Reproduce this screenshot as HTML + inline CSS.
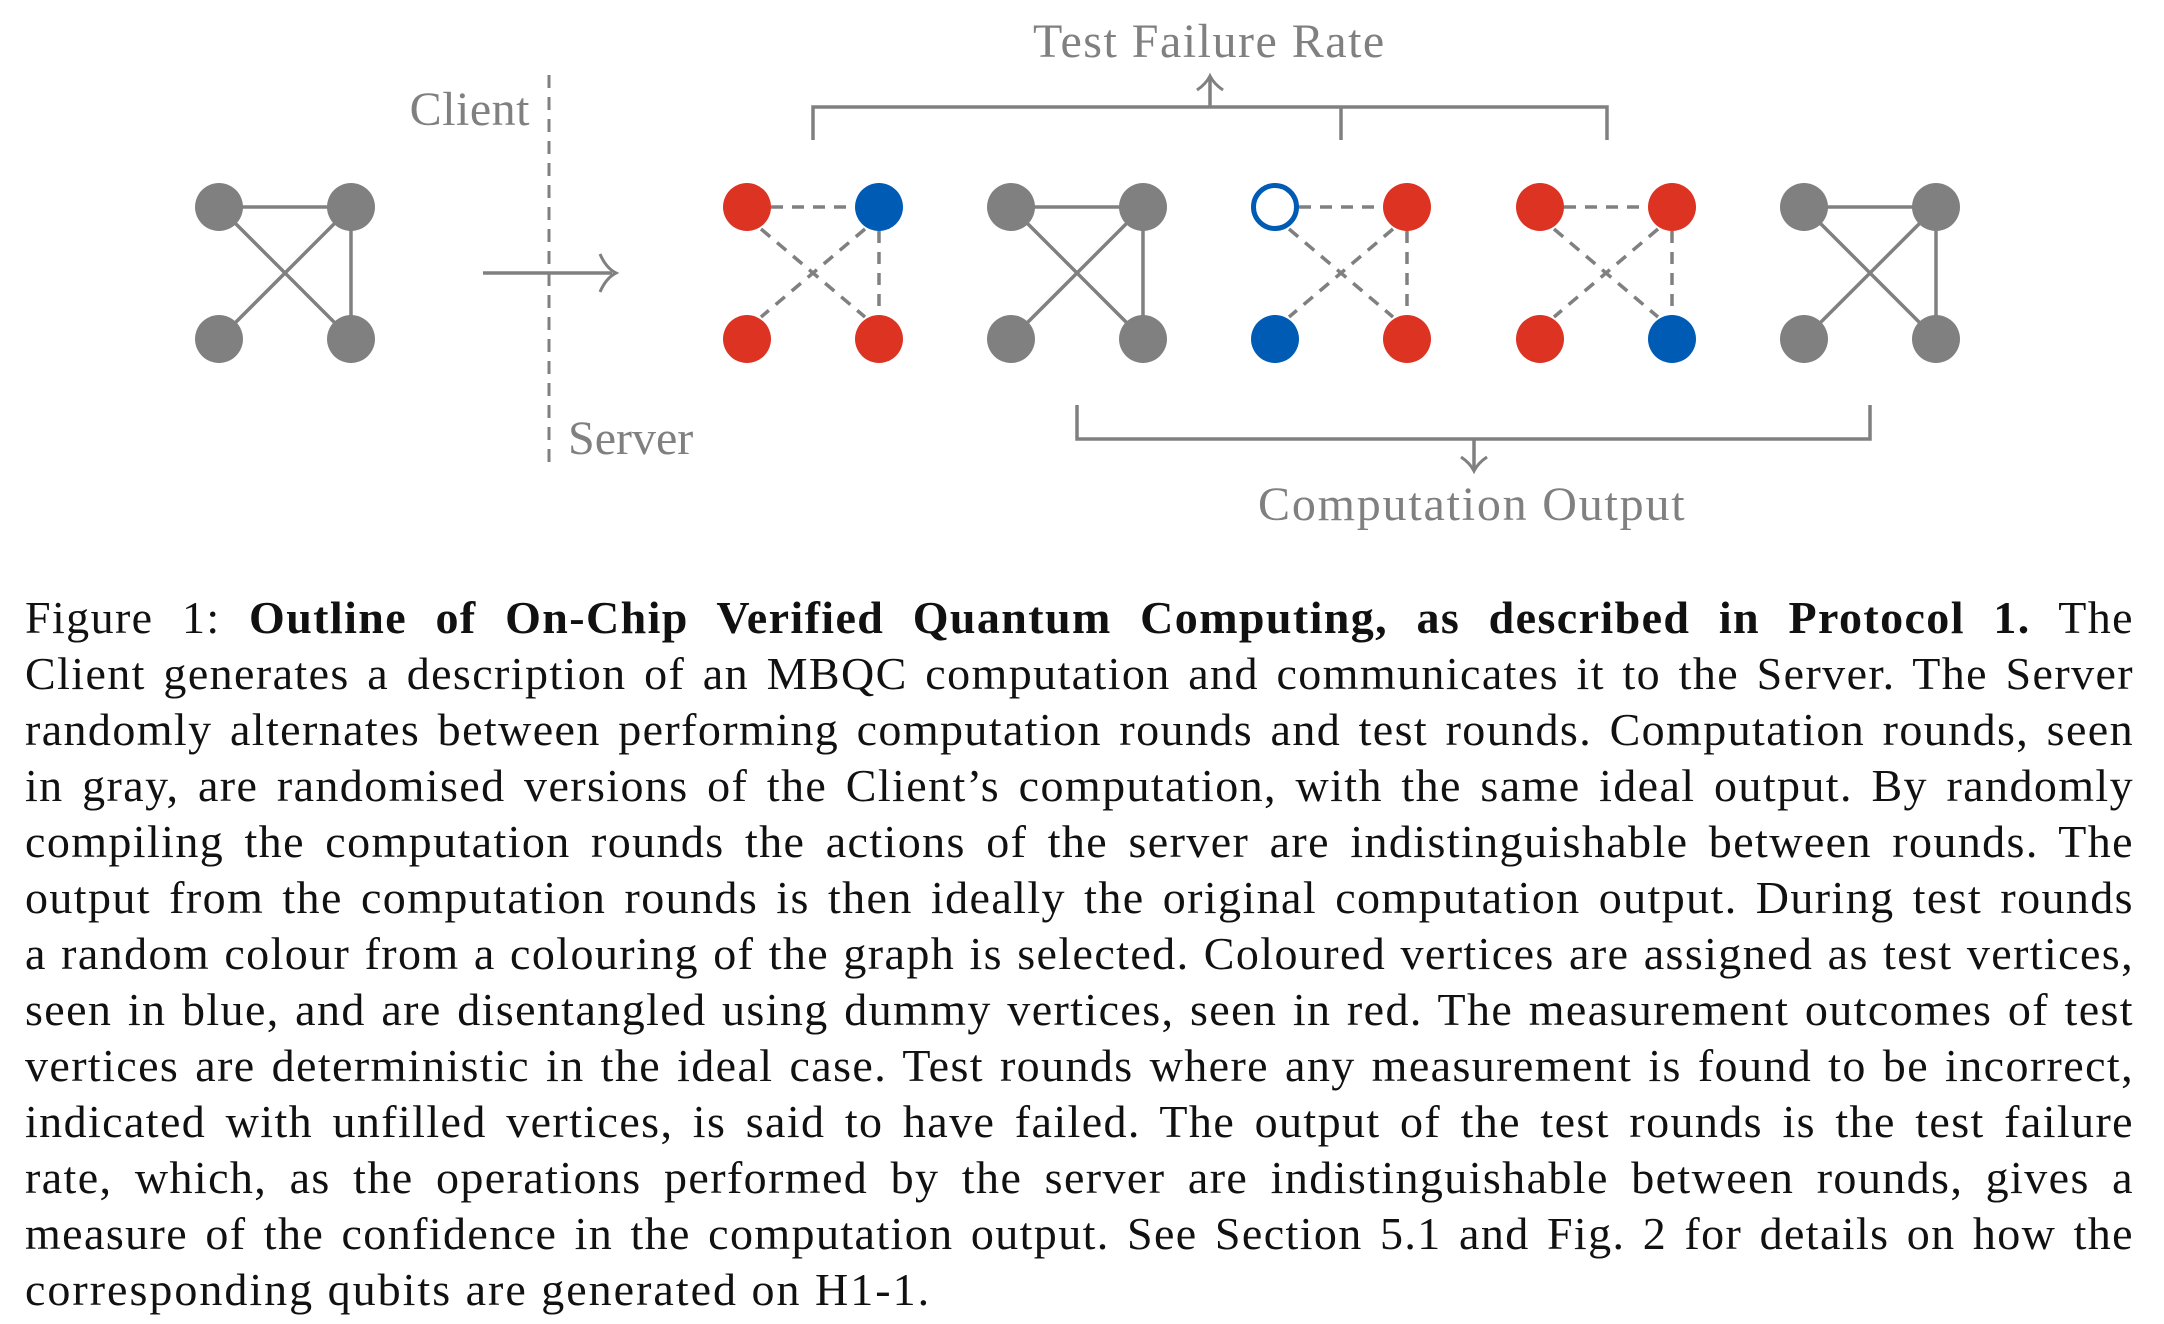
<!DOCTYPE html>
<html><head><meta charset="utf-8"><style>
html,body{margin:0;padding:0;background:#fff;}
body{width:2164px;height:1324px;position:relative;overflow:hidden;}
svg{position:absolute;left:0;top:0;}
.cap{position:absolute;left:25px;top:590px;width:2109px;font-family:"Liberation Serif",serif;font-size:46px;line-height:56px;color:#111;letter-spacing:1.4px;}
.cap div{text-align:justify;text-align-last:justify;white-space:nowrap;}
.cap div.last{text-align-last:left;letter-spacing:2px;}
</style></head><body>
<svg width="2164" height="560" viewBox="0 0 2164 560" font-family="Liberation Serif, serif" fill="#808080">
<defs>
<g id="solid" stroke="#808080" stroke-width="3.5" fill="none">
<line x1="0" y1="0" x2="132" y2="0"/><line x1="0" y1="0" x2="132" y2="132"/><line x1="132" y1="0" x2="0" y2="132"/><line x1="132" y1="0" x2="132" y2="132"/>
</g>
<g id="dash" stroke="#808080" stroke-width="3.5" fill="none" stroke-dasharray="12 9">
<line x1="24" y1="0" x2="108" y2="0"/><line x1="14" y1="22" x2="118" y2="110"/><line x1="118" y1="22" x2="14" y2="110"/><line x1="132" y1="24" x2="132" y2="108"/>
</g>
</defs>
<use href="#solid" x="219" y="207"/>
<g fill="#808080"><circle cx="219" cy="207" r="24"/><circle cx="351" cy="207" r="24"/><circle cx="219" cy="339" r="24"/><circle cx="351" cy="339" r="24"/></g>
<line x1="549" y1="75" x2="549" y2="471" stroke="#808080" stroke-width="3" stroke-dasharray="13 9"/>
<line x1="483" y1="273" x2="612" y2="273" stroke="#808080" stroke-width="3.5"/>
<path d="M600 254 Q606 268 616 273 Q606 278 600 292" stroke="#808080" stroke-width="3" fill="none"/>
<text x="530" y="125" font-size="48" text-anchor="end" letter-spacing="0.5">Client</text>
<text x="568" y="454" font-size="48" letter-spacing="0">Server</text>
<use href="#dash" x="747" y="207"/>
<circle cx="747" cy="207" r="24" fill="#DC3323"/><circle cx="879" cy="207" r="24" fill="#005BB5"/><circle cx="747" cy="339" r="24" fill="#DC3323"/><circle cx="879" cy="339" r="24" fill="#DC3323"/>
<use href="#solid" x="1011" y="207"/>
<g fill="#808080"><circle cx="1011" cy="207" r="24"/><circle cx="1143" cy="207" r="24"/><circle cx="1011" cy="339" r="24"/><circle cx="1143" cy="339" r="24"/></g>
<use href="#dash" x="1275" y="207"/>
<circle cx="1275" cy="207" r="21.5" fill="#fff" stroke="#005BB5" stroke-width="5"/><circle cx="1407" cy="207" r="24" fill="#DC3323"/><circle cx="1275" cy="339" r="24" fill="#005BB5"/><circle cx="1407" cy="339" r="24" fill="#DC3323"/>
<use href="#dash" x="1540" y="207"/>
<circle cx="1540" cy="207" r="24" fill="#DC3323"/><circle cx="1672" cy="207" r="24" fill="#DC3323"/><circle cx="1540" cy="339" r="24" fill="#DC3323"/><circle cx="1672" cy="339" r="24" fill="#005BB5"/>
<use href="#solid" x="1804" y="207"/>
<g fill="#808080"><circle cx="1804" cy="207" r="24"/><circle cx="1936" cy="207" r="24"/><circle cx="1804" cy="339" r="24"/><circle cx="1936" cy="339" r="24"/></g>
<g stroke="#808080" stroke-width="3.5" fill="none">
<path d="M813 140 V107 H1607 V140"/><line x1="1341" y1="107" x2="1341" y2="140"/>
<line x1="1210" y1="107" x2="1210" y2="78"/>
<path d="M1197 90 Q1206 84 1210 76 Q1214 84 1223 90" stroke-width="3"/>
<path d="M1077 405 V439 H1870 V405"/>
<line x1="1474" y1="439" x2="1474" y2="469"/>
<path d="M1461 457 Q1470 463 1474 471 Q1478 463 1487 457" stroke-width="3"/>
</g>
<text x="1033" y="57" font-size="48" letter-spacing="1.5">Test Failure Rate</text>
<text x="1258" y="520" font-size="48" letter-spacing="1.8">Computation Output</text>
</svg>
<div class="cap">
<div>Figure 1: <b>Outline of On-Chip Verified Quantum Computing, as described in Protocol 1.</b> The</div>
<div>Client generates a description of an MBQC computation and communicates it to the Server. The Server</div>
<div>randomly alternates between performing computation rounds and test rounds. Computation rounds, seen</div>
<div>in gray, are randomised versions of the Client’s computation, with the same ideal output. By randomly</div>
<div>compiling the computation rounds the actions of the server are indistinguishable between rounds. The</div>
<div>output from the computation rounds is then ideally the original computation output. During test rounds</div>
<div>a random colour from a colouring of the graph is selected. Coloured vertices are assigned as test vertices,</div>
<div>seen in blue, and are disentangled using dummy vertices, seen in red. The measurement outcomes of test</div>
<div>vertices are deterministic in the ideal case. Test rounds where any measurement is found to be incorrect,</div>
<div>indicated with unfilled vertices, is said to have failed. The output of the test rounds is the test failure</div>
<div>rate, which, as the operations performed by the server are indistinguishable between rounds, gives a</div>
<div>measure of the confidence in the computation output. See Section 5.1 and Fig. 2 for details on how the</div>
<div class="last">corresponding qubits are generated on H1-1.</div>
</div>
</body></html>
